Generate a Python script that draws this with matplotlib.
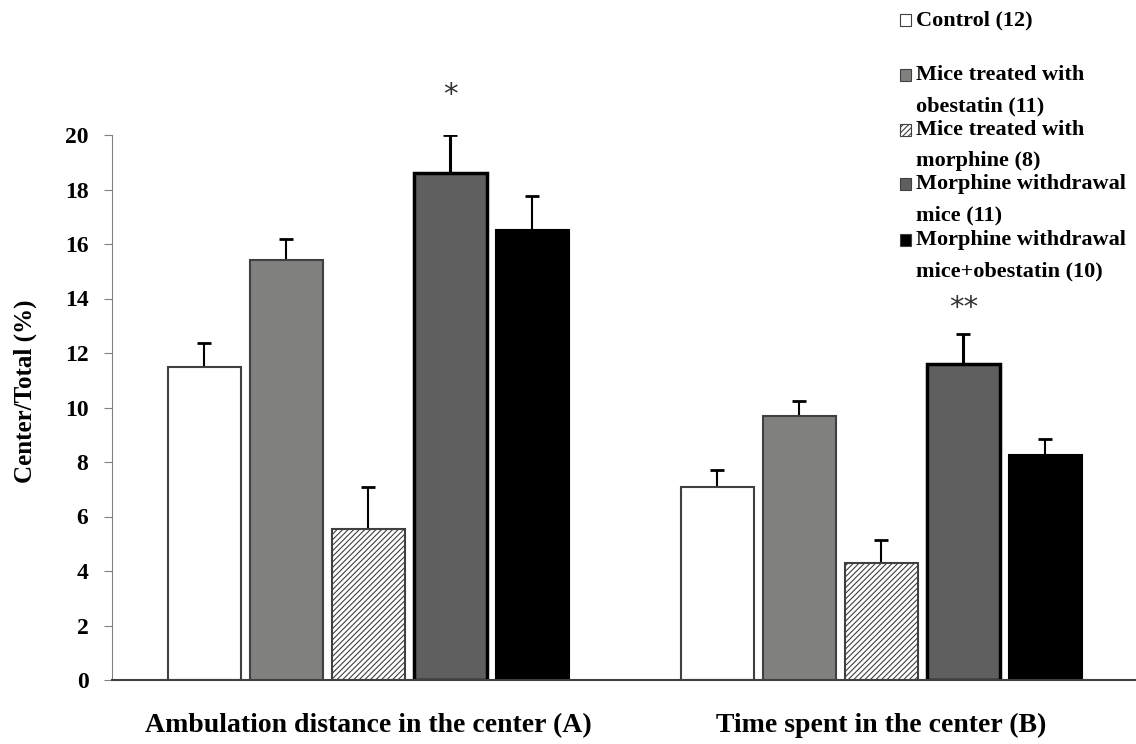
import matplotlib
matplotlib.use("Agg")
import matplotlib.pyplot as plt
from matplotlib.patches import Rectangle
import numpy as np

plt.rcParams['font.family'] = ['Liberation Serif', 'DejaVu Serif']
plt.rcParams['hatch.linewidth'] = 0.8

# data
tests = ["Ambulation distance in the center (A)", "Time spent in the center (B)"]
groups = ["Control (12)", "Mice treated with\nobestatin (11)", "Mice treated with\nmorphine (8)",
          "Morphine withdrawal\nmice (11)", "Morphine withdrawal\nmice+obestatin (10)"]
means_a = [11.5, 15.4, 5.55, 18.6, 16.5]
sem_a = [0.85, 0.8, 1.55, 1.4, 1.25]
means_b = [7.1, 9.7, 4.3, 11.6, 8.25]
sem_b = [0.6, 0.55, 0.85, 1.1, 0.6]
stars = {(0, 3): "*", (1, 3): "**"}

fills = ["white", "#80807e", "white", "#5f5f5f", "black"]
edges = ["#404040", "#404040", "#404040", "black", "black"]
lws = [1.5, 1.5, 1.5, 2.5, 1.5]
hatches = [None, None, "//////", None, None]

fig = plt.figure(figsize=(11.36, 7.44), dpi=100)
ax = fig.add_axes([112 / 1136, 64 / 744, 1024 / 1136, 545 / 744])

group_start = [0.0, 6.256]
width = 0.89
for g, (means, sems) in enumerate([(means_a, sem_a), (means_b, sem_b)]):
    xs = group_start[g] + np.arange(len(means))
    for i, x in enumerate(xs):
        ax.bar(x, means[i], width=width, color=fills[i], edgecolor=edges[i],
               linewidth=lws[i], hatch=hatches[i], zorder=2)
        ax.errorbar(x, means[i], yerr=[[0], [sems[i]]], fmt="none", ecolor="black",
                    elinewidth=1.5 if i != 3 else 2.2, capsize=5, capthick=2, zorder=1)
        if (g, i) in stars:
            off = 1.45 if g == 0 else 0.95
            ax.text(x, means[i] + sems[i] + off, stars[(g, i)], ha="center", va="center",
                    fontsize=21, color="#333333", family="DejaVu Sans", clip_on=False)

ax.set_xlim(-1.128, 11.36)
ax.set_ylim(0, 20)
ax.set_yticks(range(0, 21, 2))
ax.set_xticks([group_start[0] + 2, group_start[1] + 2])
ax.set_xticklabels(tests, fontsize=20, fontweight="bold")
ax.tick_params(axis="x", length=0, pad=24)
ax.tick_params(axis="y", direction="out", length=6, color="#808080", labelsize=17, pad=11)
for lab in ax.get_yticklabels():
    lab.set_fontweight("bold")
ax.set_ylabel("Center/Total (%)", fontsize=18, fontweight="bold")
ax.yaxis.set_label_coords(-0.073, 0.53)

for s in ["top", "right"]:
    ax.spines[s].set_visible(False)
ax.spines["left"].set_color("#808080")
ax.spines["bottom"].set_color("#404040")
ax.spines["bottom"].set_linewidth(1.5)

# legend drawn beside the bars, one text line at a time
first_line = [20, 75, 130, 184, 240]
line_gap = 31
for i, lab in enumerate(groups):
    yy = 1 - first_line[i] / 744
    fig.patches.append(Rectangle((900 / 1136, yy - 6 / 744), 11 / 1136, 12 / 744,
                                 transform=fig.transFigure, facecolor=fills[i],
                                 edgecolor="#404040", linewidth=0.8, hatch=hatches[i]))
    for k, line in enumerate(lab.split("\n")):
        fig.text(916 / 1136, yy - k * line_gap / 744, line, ha="left", va="center",
                 fontsize=16, fontweight="bold")

fig.savefig("out.png", dpi=100)
